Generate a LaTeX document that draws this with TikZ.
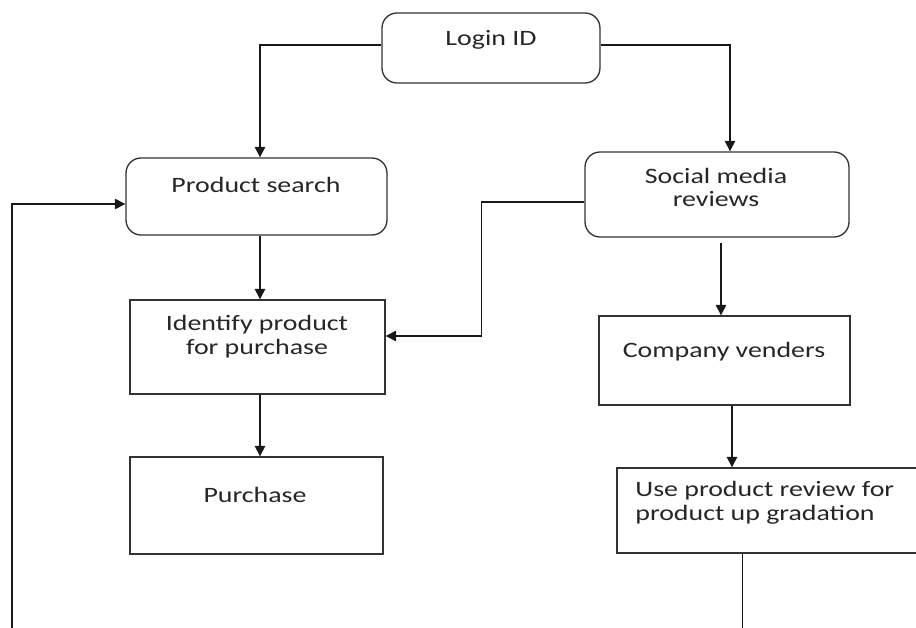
\documentclass[tikz,border=0pt]{standalone}
\usepackage{fontspec}
\setmainfont[FakeStretch=1.27]{Carlito}
\usetikzlibrary{arrows.meta,positioning,calc}

\begin{document}
\begin{tikzpicture}[
    x=0.02cm, y=-0.02cm,
    round box/.style={draw=black!80, line width=0.75pt, rounded corners=0.3cm, inner sep=0pt},
    plain box/.style={draw=black!80, line width=0.75pt, inner sep=0pt},
    box text/.style={font=\fontsize{12.5}{13.6}\selectfont, text=black!85, align=center, inner sep=0pt, anchor=base},
    arrow/.style={-{Triangle[width=6pt,length=6pt]}, line width=0.6pt, black!90},
    flow/.style={line width=0.6pt, black!90}
]
    \useasboundingbox (0,0) rectangle (916,628);
    \clip (0,0) rectangle (916,628);

    % Boxes (rounded on top, plain below)
    \node[round box, minimum width=4.36cm, minimum height=1.4cm] (login) at (491,48) {};
    \node[round box, minimum width=5.22cm, minimum height=1.54cm] (search) at (256.5,196.5) {};
    \node[round box, minimum width=5.28cm, minimum height=1.7cm] (social) at (717,194.5) {};
    \node[plain box, minimum width=5.1cm, minimum height=1.88cm] (identify) at (257.5,347) {};
    \node[plain box, minimum width=5.06cm, minimum height=1.94cm] (purchase) at (256.5,505.5) {};
    \node[plain box, minimum width=5.02cm, minimum height=1.78cm] (vendors) at (724.5,360.5) {};
    \node[plain box, minimum width=6.46cm, minimum height=1.7cm] (upgrade) at (778.5,510.5) {};

    % Box texts (base = baseline of the last line)
    \node[box text] (login text) at (491,46) {Login ID};
    \node[box text] (search text) at (256,193) {Product search};
    \node[box text] (social text) at (716,207) {Social media\\reviews};
    \node[box text] (identify text) at (257,354) {Identify product\\for purchase};
    \node[box text] (purchase text) at (255,502) {Purchase};
    \node[box text] (vendors text) at (724,357) {Company venders};
    \node[box text, anchor=base west, align=left] (upgrade text) at (635,520) {Use product review for\\product up gradation};

    % Loose ends at the bottom edge
    \coordinate (loop end) at (12,632);
    \coordinate (exit end) at (742.5,632);

    % Connectors
    \draw[arrow] ($(login.west)+(0,-3)$) -| ($(search.north)+(3.5,0)$);
    \draw[arrow] ($(login.east)+(0,-3)$) -| ($(social.north)+(13,0)$);
    \draw[arrow] ($(search.south)+(3.5,0)$) -- ($(identify.north)+(2.5,0)$);
    \draw[arrow] ($(identify.south)+(2.5,0)$) -- ($(purchase.north)+(3.5,0)$);
    \draw[arrow] ($(social.west)+(0,7.5)$) -- ++(-103,0) |- ($(identify.east)+(0,-11)$);
    \draw[arrow] ($(social.south)+(4,5)$) -- ($(vendors.north)+(-3.5,0)$);
    \draw[arrow] ($(vendors.south)+(7.5,0)$) coordinate (cv) -- (cv |- upgrade.north);
    \draw[flow] (upgrade.south -| exit end) -- (exit end);
    \draw[arrow] (loop end) |- ($(search.west)+(0,7.5)$);
\end{tikzpicture}
\end{document}
